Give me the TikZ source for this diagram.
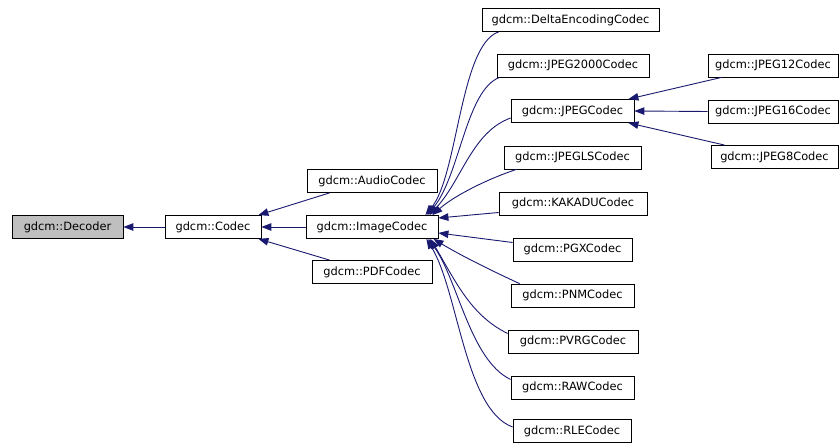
\documentclass[tikz,border=0pt]{standalone}
\usepackage{fontspec}
\setmainfont{DejaVu Sans}
\usetikzlibrary{arrows.meta,calc}
\definecolor{edgecol}{RGB}{25,25,112}
\definecolor{grayfill}{RGB}{191,191,191}
\begin{document}
\begin{tikzpicture}[x=1pt,y=-1pt,
  box/.style={draw=black,line width=0.8pt,fill=white,minimum height=23pt,inner sep=0pt,
    font=\fontsize{11.4}{13}\selectfont,text height=8.5pt,text depth=2.2pt},
  edge/.style={draw=edgecol,line width=0.9pt,-{Triangle[length=10pt,width=7.5pt]}}]
\useasboundingbox (0,0) rectangle (839,443);
% nodes
\node[box,fill=grayfill,minimum width=111pt] (decoder) at (67.5,227) {gdcm::Decoder};
\node[box,minimum width=96pt] (codec) at (213,227) {gdcm::Codec};
\node[box,minimum width=130pt] (audio) at (372,181) {gdcm::AudioCodec};
\node[box,minimum width=132pt] (image) at (372,227) {gdcm::ImageCodec};
\node[box,minimum width=120pt] (pdf) at (372,272) {gdcm::PDFCodec};
\node[box,minimum width=177pt] (delta) at (570.5,20) {gdcm::DeltaEncodingCodec};
\node[box,minimum width=152pt] (j2000) at (573,65.5) {gdcm::JPEG2000Codec};
\node[box,minimum width=123pt] (jpeg) at (572.5,111) {gdcm::JPEGCodec};
\node[box,minimum width=137pt] (jls) at (572.5,157.5) {gdcm::JPEGLSCodec};
\node[box,minimum width=148pt] (kakadu) at (573,203.5) {gdcm::KAKADUCodec};
\node[box,minimum width=119pt] (pgx) at (572.5,249.5) {gdcm::PGXCodec};
\node[box,minimum width=123pt] (pnm) at (572.5,295.5) {gdcm::PNMCodec};
\node[box,minimum width=130pt] (pvrg) at (573,341.5) {gdcm::PVRGCodec};
\node[box,minimum width=123pt] (raw) at (572.5,387.5) {gdcm::RAWCodec};
\node[box,minimum width=118pt] (rle) at (572,431) {gdcm::RLECodec};
\node[box,minimum width=130pt] (j12) at (773,65.5) {gdcm::JPEG12Codec};
\node[box,minimum width=130pt] (j16) at (773,111.5) {gdcm::JPEG16Codec};
\node[box,minimum width=127pt] (j8) at (774.5,157) {gdcm::JPEG8Codec};
% edges
\draw[edge] (codec.west) -- (decoder.east);
\draw[edge] ($(audio.south west)+(23,0)$) -- ($(codec.north east)+(-3,0)$);
\draw[edge] (image.west) -- (codec.east);
\draw[edge] ($(pdf.north west)+(18,0)$) -- ($(codec.south east)+(-3,0)$);
\draw[edge] ($(delta.south west)+(17,0)$) .. controls (460,45) and (458,175) .. ($(image.north east)+(-13,0)$);
\draw[edge] ($(j2000.south west)+(3,0)$) .. controls (466,90) and (460,175) .. ($(image.north east)+(-11,0)$);
\draw[edge] ($(jpeg.west)+(0,7)$) .. controls (472,132) and (462,180) .. ($(image.north east)+(-9,0)$);
\draw[edge] ($(jls.south west)+(13,0)$) .. controls (490,178) and (455,195) .. ($(image.north east)+(-6,0)$);
\draw[edge] ($(kakadu.west)+(0,9)$) -- ($(image.east)+(0,-9)$);
\draw[edge] ($(pgx.west)+(0,-7)$) -- ($(image.east)+(0,6)$);
\draw[edge] ($(pnm.north west)+(9,0)$) .. controls (490,270) and (460,255) .. ($(image.south east)+(-5,0)$);
\draw[edge] ($(pvrg.west)+(0,-8)$) .. controls (470,315) and (455,280) .. ($(image.south east)+(-8,0)$);
\draw[edge] ($(raw.west)+(0,-8)$) .. controls (470,360) and (458,280) .. ($(image.south east)+(-10,0)$);
\draw[edge] ($(rle.west)+(0,-4)$) .. controls (465,410) and (458,290) .. ($(image.south east)+(-12,0)$);
\draw[edge] ($(j12.south west)+(14,0)$) -- ($(jpeg.north east)+(-6,0)$);
\draw[edge] (j16.west) -- (jpeg.east);
\draw[edge] ($(j8.north west)+(14,0)$) -- ($(jpeg.south east)+(-6,0)$);
\end{tikzpicture}
\end{document}
